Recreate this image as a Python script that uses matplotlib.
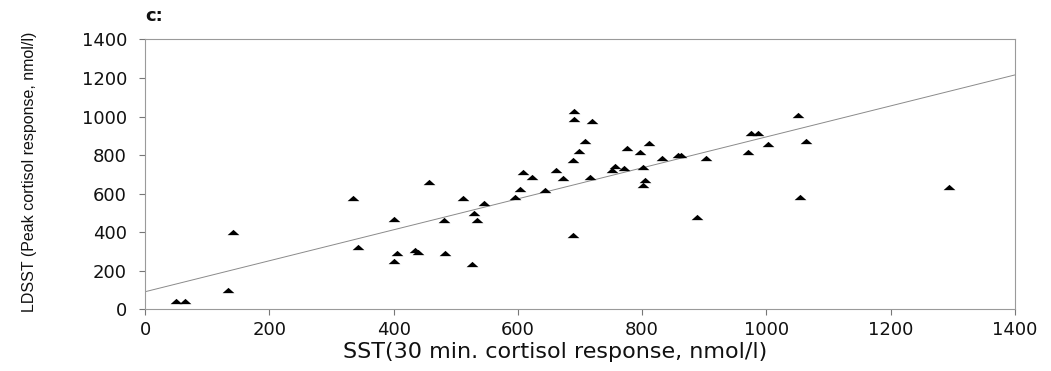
import matplotlib

matplotlib.use("Agg")
import matplotlib.pyplot as plt
from matplotlib import font_manager


# 30 min SST response vs LDSST peak response, one triangle per patient
sst_30min = [
    50, 64, 134, 141, 334, 343, 400, 405, 400, 434, 439, 457,
    482, 481, 511, 526, 530, 534, 546, 596, 603, 608, 623, 643,
    662, 672, 689, 689, 690, 691, 698, 708, 716, 720, 751, 756,
    771, 775, 797, 801, 804, 801, 811, 832, 858, 862, 889, 903,
    970, 976, 987, 1002, 1051, 1064, 1054, 1294,
]
ldsst_peak = [
    45, 45, 101, 400, 576, 326, 468, 291, 253, 308, 296, 661,
    291, 464, 578, 234, 500, 464, 551, 585, 623, 713, 687, 621,
    723, 680, 385, 774, 989, 1029, 821, 876, 686, 978, 723, 743,
    734, 836, 815, 739, 672, 646, 861, 783, 800, 800, 477, 786,
    819, 917, 917, 858, 1006, 875, 585, 637,
]

# least-squares line drawn across the whole axis
fit_intercept = 92
fit_slope = 0.803
axis_max = 1400
ticks = [0, 200, 400, 600, 800, 1000, 1200, 1400]

installed = {f.name for f in font_manager.fontManager.ttflist}
narrow = "Liberation Sans Narrow" if "Liberation Sans Narrow" in installed else "Liberation Sans"

plt.rcParams["font.family"] = ["DejaVu Sans"]

fig = plt.figure(figsize=(10.51, 3.71), dpi=100)
fig.patch.set_facecolor("white")
ax = fig.add_axes([0.138, 0.1658, 0.8277, 0.7278])

ax.plot(
    [0, axis_max],
    [fit_intercept, fit_intercept + fit_slope * axis_max],
    color="#8a8a8a",
    linewidth=0.7,
    zorder=1,
)

# flattened triangle marker
flat_tri = [(-1, -0.45), (1, -0.45), (0, 0.45), (-1, -0.45)]
ax.scatter(sst_30min, ldsst_peak, marker=flat_tri, s=8.5 ** 2, color="black", linewidths=0, zorder=3)

ax.set_xlim(0, axis_max)
ax.set_ylim(0, axis_max)
ax.set_xticks(ticks)
ax.set_yticks(ticks)
for spine in ax.spines.values():
    spine.set_color("#9a9a9a")
    spine.set_linewidth(0.8)
ax.tick_params(axis="both", direction="out", length=4, width=0.8, color="#777777",
               labelsize=13, labelcolor="#111111")
ax.tick_params(axis="y", pad=9)
ax.tick_params(axis="x", pad=4)

ax.set_xlabel("SST(30 min. cortisol response, nmol/l)", fontsize=16, color="#111111")
ax.xaxis.set_label_coords((555 - 145) / 870, -0.122)
ax.set_ylabel("LDSST (Peak cortisol response, nmol/l)", fontsize=11.5, family=[narrow, "DejaVu Sans"],
              color="#111111")
ax.yaxis.set_label_coords((37 - 145) / 870, 0.51)

fig.text(145 / 1051, 1 - 16 / 371, "c:", fontsize=13, fontweight="bold", color="#111111",
         ha="left", va="center")

fig.savefig("out.png", dpi=100)
